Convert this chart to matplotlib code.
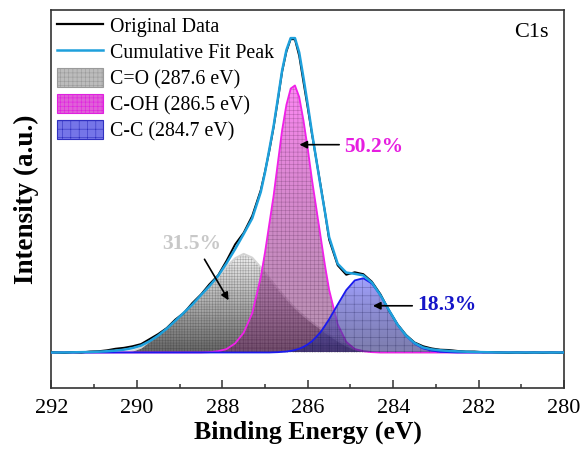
import numpy as np
import matplotlib
matplotlib.use("Agg")
import matplotlib.pyplot as plt
from matplotlib.lines import Line2D
from matplotlib.patches import Patch

plt.rcParams['font.family'] = ['Liberation Serif', 'DejaVu Serif']
plt.rcParams['hatch.linewidth'] = 0.4

# binding energy grid (eV) and curves (arb. units)
energy = [292.0, 291.9, 291.7, 291.5, 291.3, 291.1, 290.9, 290.7, 290.5, 290.3,
          290.1, 289.9, 289.7, 289.5, 289.3, 289.1, 288.9, 288.7, 288.5, 288.3,
          288.1, 287.9, 287.7, 287.5, 287.3, 287.1, 287.0, 286.9, 286.8, 286.7,
          286.6, 286.5, 286.4, 286.3, 286.2, 286.1, 286.0, 285.9, 285.8, 285.7,
          285.6, 285.5, 285.3, 285.1, 284.9, 284.7, 284.5, 284.3, 284.1, 283.9,
          283.7, 283.5, 283.3, 283.1, 282.9, 282.7, 282.5, 282.3, 282.1, 281.9,
          281.7, 281.5, 281.3, 281.1, 280.9, 280.7, 280.5, 280.3, 280.1, 280.0]

original = [0.1, 0.0, -0.1, 0.1, 0.0, 0.3, 0.4, 0.7, 1.2, 1.5,
            2.0, 2.7, 4.3, 5.9, 7.8, 10.5, 12.6, 15.8, 18.5, 21.8,
            24.6, 29.3, 34.5, 38.2, 43.6, 51.8, 57.8, 64.3, 71.8, 80.5,
            89.6, 96.0, 100.0, 99.9, 94.6, 86.2, 78.0, 69.5, 61.5, 53.4,
            45.0, 36.0, 27.8, 24.8, 25.6, 25.0, 22.6, 18.6, 13.4, 9.0,
            5.6, 3.2, 2.0, 1.3, 0.9, 0.8, 0.5, 0.3, 0.3, 0.1,
            0.1, 0.0, -0.1, 0.0, -0.1, 0.0, -0.1, 0.0, -0.1, 0.0]

cum_fit = [0.0, 0.0, 0.0, 0.05, 0.1, 0.15, 0.25, 0.4, 0.6, 0.9,
           1.4, 2.2, 3.6, 5.4, 7.6, 10.1, 12.7, 15.3, 18.3, 21.2,
           24.4, 28.5, 33.0, 37.8, 42.8, 51.2, 57.5, 64.8, 72.2, 81.0,
           90.0, 96.5, 100.3, 100.3, 95.7, 87.6, 79.0, 70.0, 61.5, 53.0,
           45.0, 36.8, 28.3, 25.5, 25.1, 24.6, 22.3, 18.3, 13.5, 8.9,
           5.4, 3.0, 1.6, 1.0, 0.7, 0.5, 0.35, 0.25, 0.15, 0.1,
           0.05, 0.0, 0.0, 0.0, 0.0, 0.0, 0.0, 0.0, 0.0, 0.0]

peak_co = [0, 0, 0, 0, 0, 0, 0, 0, 0.1, 0.2,
           0.5, 1.5, 3.6, 5.6, 7.8, 10.4, 12.8, 15.2, 18.2, 21.1,
           24.0, 27.4, 30.1, 31.5, 30.3, 27.2, 25.5, 23.8, 22.1, 20.4,
           18.8, 17.2, 15.7, 14.3, 13.0, 11.8, 10.7, 9.6, 8.6, 7.6,
           6.6, 5.6, 3.8, 2.2, 1.0, 0.5, 0.2, 0, 0, 0,
           0, 0, 0, 0, 0, 0, 0, 0, 0, 0,
           0, 0, 0, 0, 0, 0, 0, 0, 0, 0]

peak_coh = [0, 0, 0, 0, 0, 0, 0, 0, 0, 0,
            0, 0, 0, 0, 0, 0, 0, 0, 0.0, 0.1,
            0.4, 1.1, 2.9, 6.3, 12.5, 24.0, 32.0, 41.0, 50.0, 60.5,
            71.0, 79.0, 84.2, 85.2, 81.5, 74.0, 65.0, 55.0, 46.0, 37.0,
            28.0, 20.0, 9.0, 3.4, 1.1, 0.4, 0.1, 0, 0, 0,
            0, 0, 0, 0, 0, 0, 0, 0, 0, 0,
            0, 0, 0, 0, 0, 0, 0, 0, 0, 0]

peak_cc = [0, 0, 0, 0, 0, 0, 0, 0, 0, 0,
           0, 0, 0, 0, 0, 0, 0, 0, 0, 0,
           0, 0, 0, 0, 0, 0.0, 0.0, 0.0, 0.05, 0.1,
           0.2, 0.3, 0.5, 0.8, 1.2, 1.8, 2.6, 3.6, 5.0, 6.5,
           8.5, 10.6, 15.3, 19.9, 23.0, 23.7, 22.0, 18.3, 13.5, 8.9,
           5.3, 2.8, 1.3, 0.6, 0.2, 0.1, 0, 0, 0, 0,
           0, 0, 0, 0, 0, 0, 0, 0, 0, 0]

labels = ["Original Data", "Cumulative Fit Peak",
          "C=O (287.6 eV)", "C-OH (286.5 eV)", "C-C (284.7 eV)"]
percent = ["31.5%", "50.2%", "18.3%"]

x = np.array(energy)

fig = plt.figure(figsize=(5.84, 4.5), dpi=100)
ax = fig.add_axes([0.088, 0.138, 0.878, 0.84])


def gradient_peak(y, top, bottom, a_top, a_bot, edge, hatch, hcol, z):
    y = np.array(y, dtype=float)
    poly = ax.fill_between(x, 0, y, facecolor='none', edgecolor='none', zorder=z)
    t = np.linspace(0, 1, 256)[:, None]
    rgba = np.zeros((256, 1, 4))
    for k in range(3):
        rgba[:, :, k] = (bottom[k] + (top[k] - bottom[k]) * t) / 255.0
    rgba[:, :, 3] = a_bot + (a_top - a_bot) * t
    img = ax.imshow(rgba, extent=[x.max(), x.min(), 0, y.max()], origin='lower',
                    aspect='auto', zorder=z, interpolation='bilinear')
    img.set_clip_path(poly.get_paths()[0], transform=ax.transData)
    ax.fill_between(x, 0, y, facecolor='none', edgecolor=hcol, hatch=hatch,
                    linewidth=0, zorder=z + 0.1)
    ax.plot(x, y, color=edge, lw=1.3, zorder=z + 0.2)


gradient_peak(peak_co, (236, 236, 236), (75, 75, 75), 0.75, 0.85,
              '#d4d4d4', '++++++', (0.1, 0.1, 0.1, 0.3), 2)
gradient_peak(peak_coh, (255, 115, 242), (125, 60, 115), 0.85, 0.55,
              '#f020e8', '++++', (0.15, 0.0, 0.15, 0.27), 3)
gradient_peak(peak_cc, (138, 138, 255), (40, 40, 120), 0.8, 0.6,
              '#1a1aee', '++', (0.0, 0.0, 0.2, 0.32), 4)

ax.plot(x, original, color='black', lw=1.4, zorder=6)
ax.plot(x, cum_fit, color='#1ea0dc', lw=1.8, zorder=7)

ax.set_xlim(292, 280)
ax.set_ylim(-11.3, 109.3)
ax.set_xticks([292, 290, 288, 286, 284, 282, 280])
ax.set_xticks([291, 289, 287, 285, 283, 281], minor=True)
ax.set_yticks([])
ax.tick_params(axis='x', which='both', direction='in', top=False,
               labelsize=16, pad=8, width=1.1, color='#333333')
ax.tick_params(axis='x', which='major', length=6)
ax.tick_params(axis='x', which='minor', length=3)
for s in ax.spines.values():
    s.set_linewidth(1.2)
    s.set_color('#333333')

ax.set_xlabel("Binding Energy (eV)", fontsize=18.5, fontweight='bold', labelpad=2)
ax.set_ylabel("Intensity (a.u.)", fontsize=19.5, fontweight='bold', labelpad=9)

ax.text(0.969, 0.94, "C1s", transform=ax.transAxes, ha='right', va='center',
        fontsize=16)

# percentage labels with arrows
ax.annotate("", xy=(286.26, 66.3), xytext=(285.2, 66.3),
            arrowprops=dict(arrowstyle='-|>', color='black', lw=1.2,
                            mutation_scale=11), zorder=9)
ax.text(285.15, 65.5, percent[1], color='#e61ee0', fontsize=15.5,
        fontweight='bold', ha='left', va='center', zorder=9)
ax.annotate("", xy=(284.54, 14.9), xytext=(283.49, 14.9),
            arrowprops=dict(arrowstyle='-|>', color='black', lw=1.2,
                            mutation_scale=11), zorder=9)
ax.text(283.44, 15.2, percent[2], color='#1414c8', fontsize=15.5,
        fontweight='bold', ha='left', va='center', zorder=9)
ax.annotate("", xy=(287.82, 15.9), xytext=(288.45, 30.5),
            arrowprops=dict(arrowstyle='-|>', color='black', lw=1.2,
                            mutation_scale=11), zorder=9)
ax.text(288.71, 34.6, percent[0], color='#c8c8c8', fontsize=15.5,
        fontweight='bold', ha='center', va='center', zorder=9)

handles = [Line2D([], [], color='black', lw=1.6),
           Line2D([], [], color='#1ea0dc', lw=1.8),
           Patch(facecolor='#bcbcbc', edgecolor='#9a9a9a', hatch='++++', lw=0.8),
           Patch(facecolor='#e060d8', edgecolor='#e020e0', hatch='++++', lw=0.8),
           Patch(facecolor='#7575e8', edgecolor='#3030c0', hatch='++', lw=0.8)]
ax.legend(handles, labels, loc='upper left', frameon=False, fontsize=14.3,
          handlelength=2.3, handleheight=1.1, labelspacing=0.24,
          handletextpad=0.35, borderaxespad=0.2, borderpad=0.1)

fig.savefig("out.png", dpi=100)
